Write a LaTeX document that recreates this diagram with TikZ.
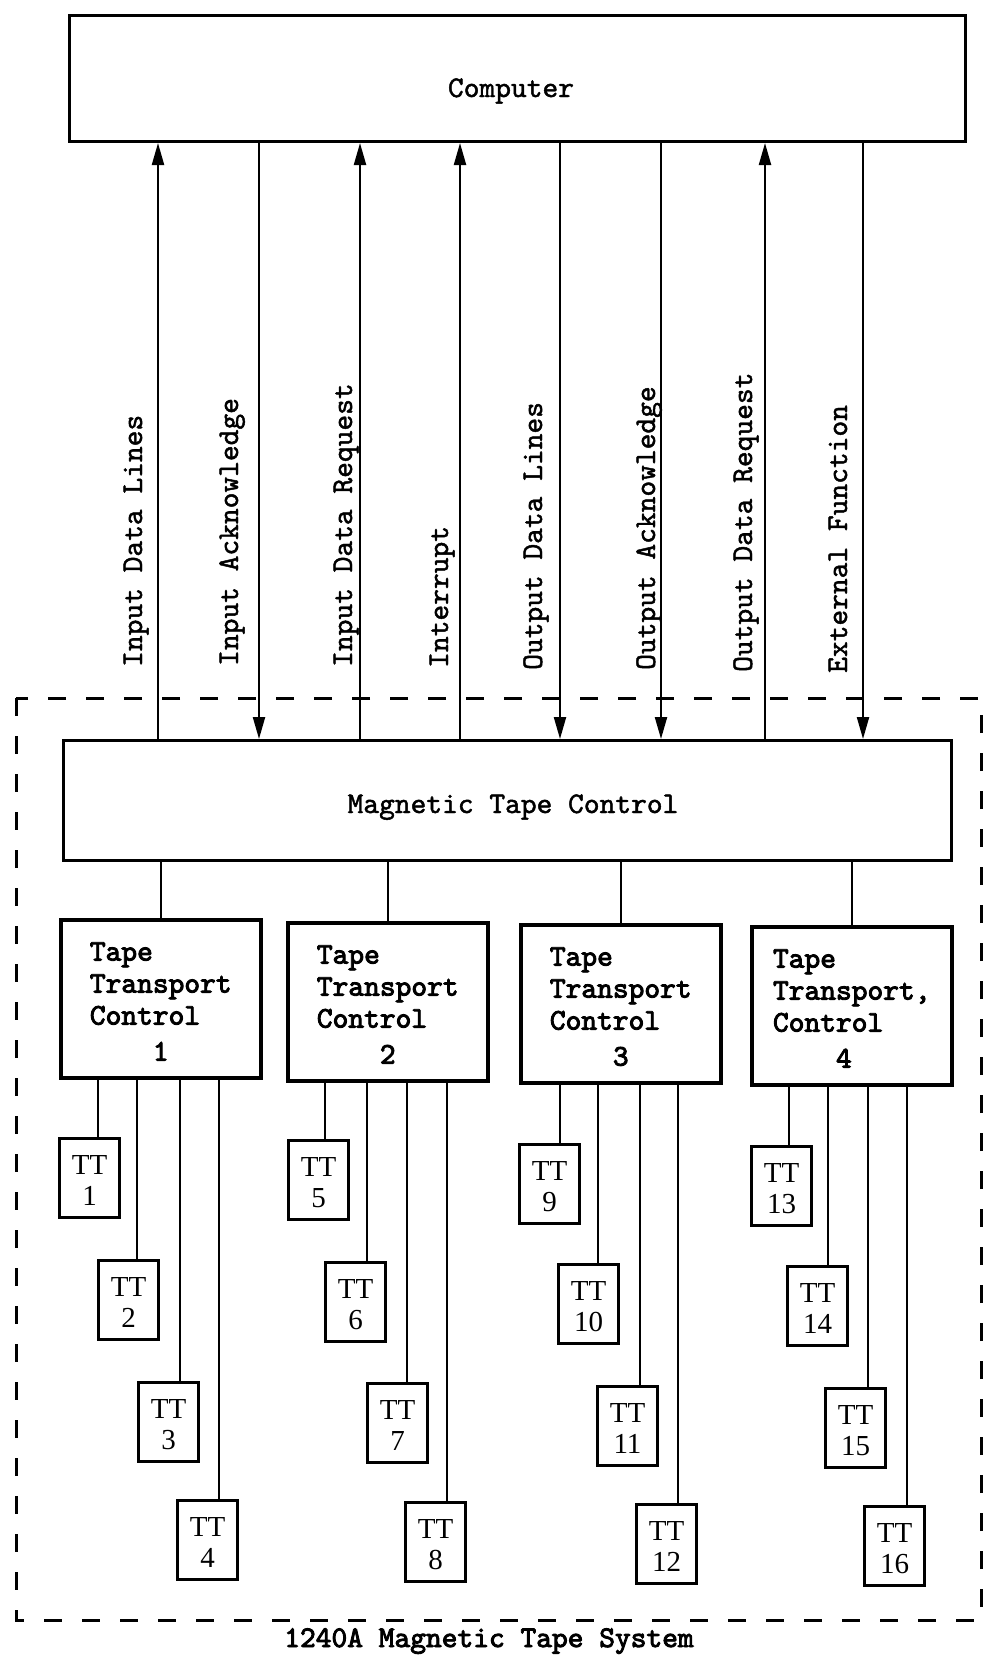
\documentclass[tikz,border=0pt]{standalone}
\usepackage{fontspec}
\newfontfamily\ttserif{Liberation Serif}
\newfontfamily\tyl{lmmono10-regular.otf}[FakeBold=1.5]
\newfontfamily\tyb{lmmono10-regular.otf}[FakeBold=3]
\usetikzlibrary{arrows.meta}
\tikzset{
  box/.style={draw, line width=3pt, inner sep=0pt},
  conn/.style={line width=2.2pt},
  arr/.style={conn, -{Triangle[length=22pt,width=12pt]}},
  tyfont/.style={font=\fontsize{30}{33}\selectfont\tyl},
  lbl/.style={tyfont, rotate=90, anchor=base west, inner sep=0pt},
  ttcbox/.style={box, line width=3.5pt, minimum width=200pt, minimum height=158pt,
                 align=left, font=\fontsize{30}{32}\selectfont\tyb, anchor=north west},
  ttbox/.style={box, minimum width=60pt, minimum height=79pt, align=center,
                font=\fontsize{29}{31}\selectfont\ttserif, anchor=north west},
  frame/.style={line width=3pt, dash pattern=on 18pt off 20pt},
}
\newcommand\ttunit[6]{%
  \node[ttbox] (#1) at (#2,#3) {\rule{0pt}{24pt}TT\\#4};
  \coordinate (#1k) at (#5,#3);
  \draw[conn] (#1k) -- (#1k |- #6.south);
}
\begin{document}
\begin{tikzpicture}[x=1pt,y=-1pt]
\fill[white] (0,0) rectangle (983,1660);
\useasboundingbox (0,0) rectangle (983,1660);

% Computer
\node[box, anchor=north west, minimum width=896pt, minimum height=126pt] (comp) at (68,14) {};
\node[tyfont, anchor=base, inner sep=0pt] (comptext) at (511,97) {Computer};

% Magnetic Tape Control
\node[box, anchor=north west, minimum width=888pt, minimum height=120pt] (mtc) at (62,739) {};
\node[tyfont, anchor=base, inner sep=0pt] (mtctext) at (513,813) {Magnetic Tape Control};

% signal lines
\coordinate (l1) at (158,400);
\coordinate (l2) at (259,400);
\coordinate (l3) at (360,400);
\coordinate (l4) at (460,400);
\coordinate (l5) at (560,400);
\coordinate (l6) at (661,400);
\coordinate (l7) at (765,400);
\coordinate (l8) at (863,400);
\draw[arr] (l1 |- mtc.north) -- (l1 |- comp.south);
\draw[arr] (l2 |- comp.south) -- (l2 |- mtc.north);
\draw[arr] (l3 |- mtc.north) -- (l3 |- comp.south);
\draw[arr] (l4 |- mtc.north) -- (l4 |- comp.south);
\draw[arr] (l5 |- comp.south) -- (l5 |- mtc.north);
\draw[arr] (l6 |- comp.south) -- (l6 |- mtc.north);
\draw[arr] (l7 |- mtc.north) -- (l7 |- comp.south);
\draw[arr] (l8 |- comp.south) -- (l8 |- mtc.north);

\node[lbl] (t1) at (142,667) {Input Data Lines};
\node[lbl] (t2) at (238,666) {Input Acknowledge};
\node[lbl] (t3) at (352,667) {Input Data Request};
\node[lbl] (t4) at (448,668) {Interrupt};
\node[lbl] (t5) at (542,670) {Output Data Lines};
\node[lbl] (t6) at (655,670) {Output Acknowledge};
\node[lbl] (t7) at (752,672) {Output Data Request};
\node[lbl] (t8) at (847,673) {External Function};

% system frame
\draw[frame] (16,698) rectangle (981,1620);

% tape transport controls
\node[ttcbox] (ttc1) at (59,918) {\rule{0pt}{24pt}Tape\\Transport\\Control\\[4pt]\phantom{Cont}1};
\node[ttcbox] (ttc2) at (286,921) {\rule{0pt}{24pt}Tape\\Transport\\Control\\[4pt]\phantom{Cont}2};
\node[ttcbox] (ttc3) at (519,923) {\rule{0pt}{24pt}Tape\\Transport\\Control\\[4pt]\phantom{Cont}3};
\node[ttcbox] (ttc4) at (750,925) {\rule{0pt}{24pt}Tape\\Transport,\\Control\\[4pt]\phantom{Cont}4};
\foreach \i in {1,...,4}{
  \draw[conn] (ttc\i.north) -- (ttc\i.north |- mtc.south);
}

% tape transports
\ttunit{tt1}{58}{1137}{1}{98}{ttc1}
\ttunit{tt2}{97}{1259}{2}{137}{ttc1}
\ttunit{tt3}{137}{1381}{3}{180}{ttc1}
\ttunit{tt4}{176}{1499}{4}{219}{ttc1}
\ttunit{tt5}{287}{1139}{5}{325}{ttc2}
\ttunit{tt6}{324}{1261}{6}{367}{ttc2}
\ttunit{tt7}{366}{1382}{7}{407}{ttc2}
\ttunit{tt8}{404}{1501}{8}{447}{ttc2}
\ttunit{tt9}{518}{1143}{9}{560}{ttc3}
\ttunit{tt10}{557}{1263}{10}{598}{ttc3}
\ttunit{tt11}{596}{1385}{11}{640}{ttc3}
\ttunit{tt12}{635}{1503}{12}{678}{ttc3}
\ttunit{tt13}{750}{1145}{13}{789}{ttc4}
\ttunit{tt14}{786}{1265}{14}{828}{ttc4}
\ttunit{tt15}{824}{1387}{15}{868}{ttc4}
\ttunit{tt16}{863}{1505}{16}{907}{ttc4}

% caption
\node[font=\fontsize{30}{33}\selectfont\tyb, anchor=base, inner sep=0pt] (cap) at (489,1647) {1240A Magnetic Tape System};
\end{tikzpicture}
\end{document}
